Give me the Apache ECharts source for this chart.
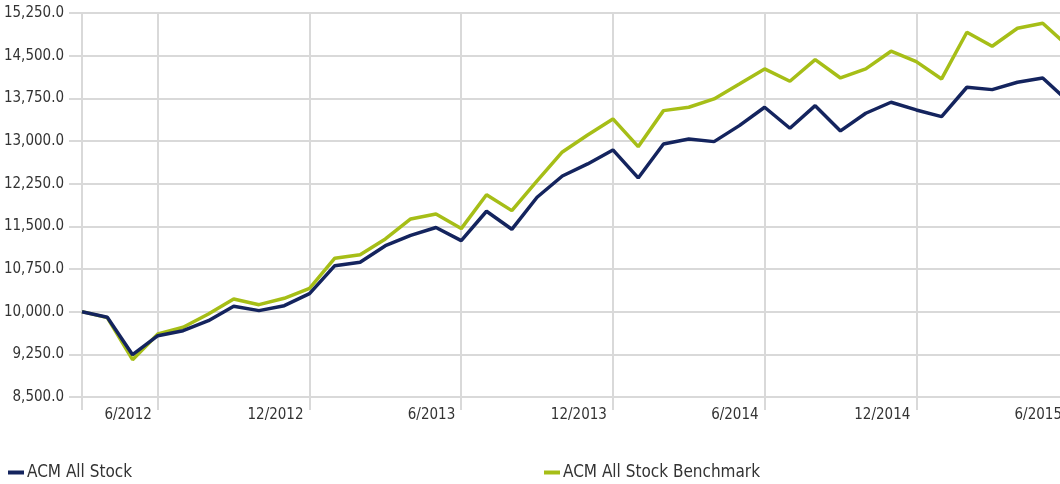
<!DOCTYPE html>
<html>
<head>
<meta charset="utf-8">
<script src="https://cdn.jsdelivr.net/npm/echarts@6/dist/echarts.min.js"></script>
<style>
html,body{margin:0;padding:0;background:#fff;}
#chart{width:1060px;height:484px;}
</style>
</head>
<body>
<div id="chart"></div>
<script>
var months = ["3/2012","4/2012","5/2012","6/2012","7/2012","8/2012","9/2012","10/2012","11/2012","12/2012",
  "1/2013","2/2013","3/2013","4/2013","5/2013","6/2013","7/2013","8/2013","9/2013","10/2013","11/2013","12/2013",
  "1/2014","2/2014","3/2014","4/2014","5/2014","6/2014","7/2014","8/2014","9/2014","10/2014","11/2014","12/2014",
  "1/2015","2/2015","3/2015","4/2015","5/2015","6/2015"];
var tickLabels = ["6/2012","12/2012","6/2013","12/2013","6/2014","12/2014","6/2015"];
var acmAllStock = [10000,9902,9244,9578,9666,9842,10095,10018,10105,10316,
  10809,10870,11160,11340,11480,11248,11765,11448,12011,12385,12597,12843,
  12351,12948,13036,12989,13270,13593,13224,13621,13177,13488,13681,13546,
  13428,13945,13903,14033,14108,13700];
var acmBenchmark = [10000,9895,9156,9608,9725,9960,10223,10123,10235,10411,
  10939,11002,11278,11630,11718,11460,12055,11776,12300,12808,13106,13388,
  12901,13534,13593,13740,14003,14267,14050,14430,14108,14267,14578,14395,
  14091,14912,14666,14982,15070,14668];

var FONT = "'DejaVu Sans Condensed','Liberation Sans Narrow',sans-serif";
var GRID_C = '#d9d9d9';
var TEXT_C = '#333333';
function isTick(idx){ return idx === 0 || tickLabels.indexOf(months[idx]) >= 0; }
function isLabel(idx){ return tickLabels.indexOf(months[idx]) >= 0; }

var chart = echarts.init(document.getElementById('chart'), null, {renderer:'canvas'});
chart.setOption({
  animation:false,
  backgroundColor:'#ffffff',
  grid:{left:82, top:13, width:986, height:384, containLabel:false, outerBoundsMode:'none'},
  legend:[
    {data:['ACM All Stock'], left:3, top:459, icon:'rect', itemWidth:16, itemHeight:4, itemGap:0,
     textStyle:{fontFamily:FONT, fontSize:17, color:TEXT_C, padding:[0,0,0,-2]}},
    {data:['ACM All Stock Benchmark'], left:539, top:459, icon:'rect', itemWidth:16, itemHeight:4, itemGap:0,
     textStyle:{fontFamily:FONT, fontSize:17, color:TEXT_C, padding:[0,0,0,-2]}}
  ],
  xAxis:{
    type:'category', data:months, boundaryGap:false,
    axisLine:{show:true, lineStyle:{color:GRID_C, width:2}},
    axisTick:{show:true, length:13, interval:function(i){return isTick(i);}, lineStyle:{color:GRID_C, width:2}},
    splitLine:{show:true, interval:function(i){return isTick(i);}, lineStyle:{color:GRID_C, width:2}},
    axisLabel:{interval:function(i){return isLabel(i);}, align:'right', margin:11,
      padding:[0,6,0,0], fontFamily:FONT, fontSize:15, color:TEXT_C}
  },
  yAxis:{
    type:'value', min:8500, max:15250, interval:750,
    axisLine:{show:true, lineStyle:{color:GRID_C, width:2}},
    axisTick:{show:true, length:13, lineStyle:{color:GRID_C, width:2}},
    splitLine:{show:true, lineStyle:{color:GRID_C, width:2}},
    axisLabel:{margin:18, fontFamily:FONT, fontSize:15, color:TEXT_C,
      formatter:function(v){return v.toLocaleString('en-US',{minimumFractionDigits:1, maximumFractionDigits:1});}}
  },
  series:[
    {name:'ACM All Stock', type:'line', data:acmAllStock, showSymbol:false, symbol:'none',
     lineStyle:{color:'#14245e', width:3.5}, itemStyle:{color:'#14245e'}, z:3},
    {name:'ACM All Stock Benchmark', type:'line', data:acmBenchmark, showSymbol:false, symbol:'none',
     lineStyle:{color:'#a6be17', width:3.5}, itemStyle:{color:'#a6be17'}, z:2}
  ]
});
</script>
</body>
</html>
